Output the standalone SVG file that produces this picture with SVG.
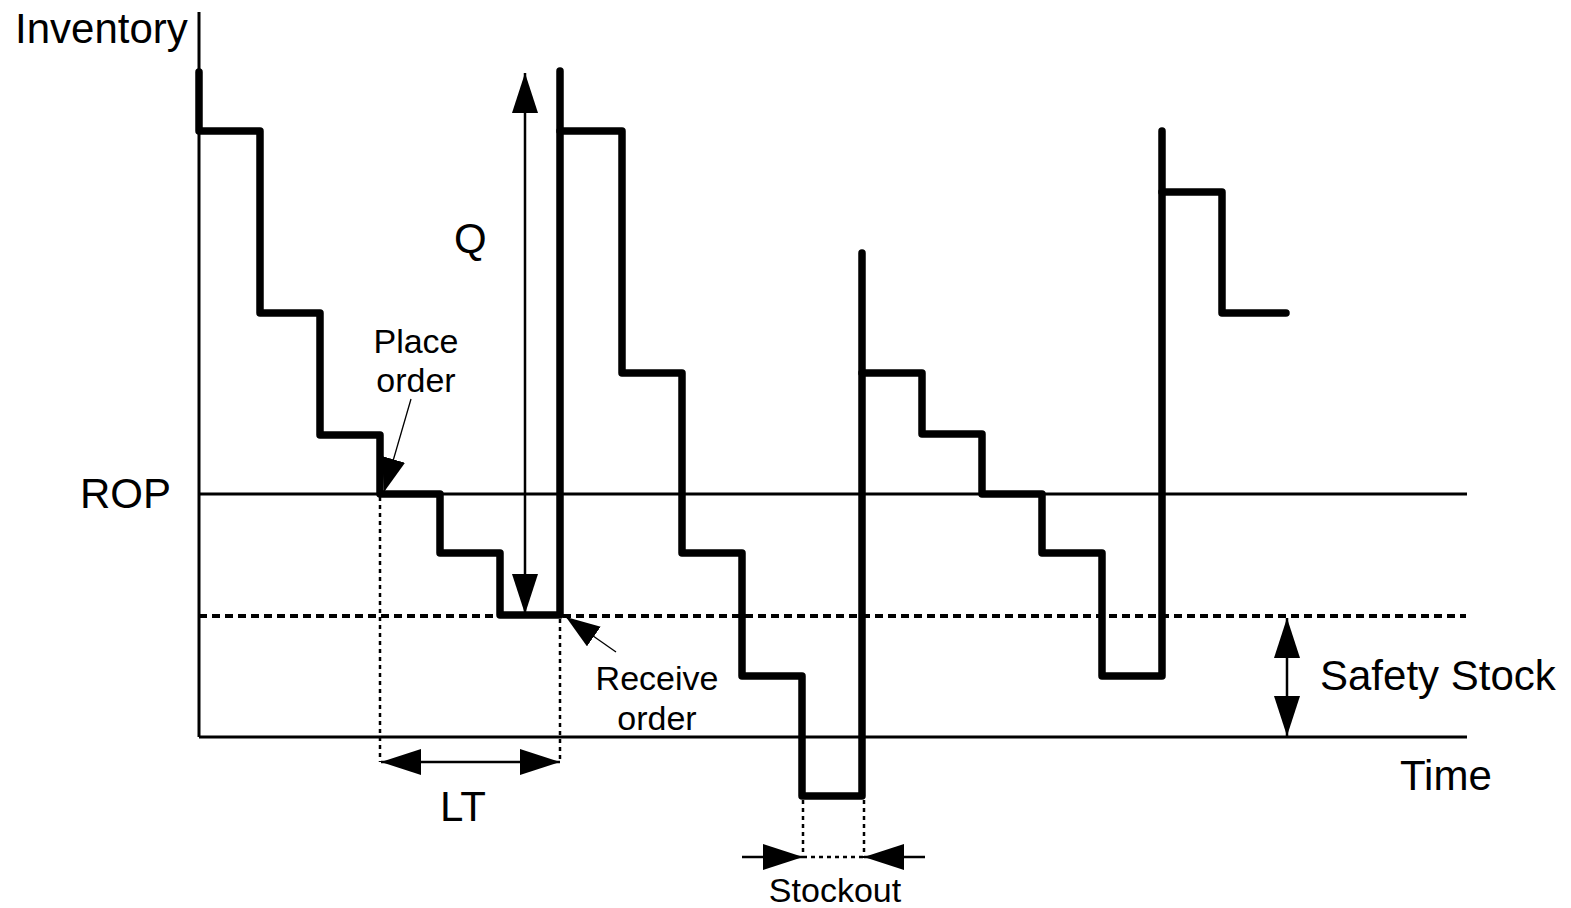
<svg xmlns="http://www.w3.org/2000/svg" width="1571" height="908" viewBox="0 0 1571 908">
<style>
.bg{fill:#ffffff}
.axis{stroke:#000;stroke-width:3;fill:none}
.inv{stroke:#000;stroke-width:7.5;fill:none;stroke-linejoin:round;stroke-linecap:round}
.ss{stroke:#000;stroke-width:4;fill:none;stroke-dasharray:8 5}
.dot{stroke:#000;stroke-width:2.5;fill:none;stroke-dasharray:4 4}
.arr{stroke:#000;stroke-width:2.5;fill:none}
.lead{stroke:#000;stroke-width:1.3;fill:none}
.big{font-family:"Liberation Sans",Arial,sans-serif;font-size:42px;fill:#000}
.sm{font-family:"Liberation Sans",Arial,sans-serif;font-size:34px;fill:#000}
</style>
<defs>
<marker id="ah" markerUnits="userSpaceOnUse" markerWidth="40" markerHeight="26" viewBox="0 0 40 26" refX="40" refY="13" orient="auto-start-reverse">
<path d="M0,0 L40,13 L0,26 Z" fill="#000"/>
</marker>
<marker id="ahs" markerUnits="userSpaceOnUse" markerWidth="34" markerHeight="24" viewBox="0 0 34 24" refX="34" refY="12" orient="auto">
<path d="M0,0 L34,12 L0,24 Z" fill="#000"/>
</marker>
</defs>
<rect class="bg" x="0" y="0" width="1571" height="908"/>
<g id="axes">
<line class="axis" x1="199" y1="12" x2="199" y2="737"/>
<line class="axis" x1="199" y1="737" x2="1467" y2="737"/>
<line class="axis" x1="199" y1="494" x2="1467" y2="494"/>
<line class="ss" x1="199" y1="616" x2="1466" y2="616"/>
</g>
<g id="inventory-curve">
<path class="inv" d="M199,72 L199,131 L260,131 L260,313 L320,313 L320,435 L380,435 L380,494 L440,494 L440,553 L500,553 L500,615 L560,615 L560,71"/>
<path class="inv" d="M560,131 L622,131 L622,373 L682,373 L682,553 L742,553 L742,676 L802,676 L802,796 L862,796 L862,253"/>
<path class="inv" d="M862,373 L922,373 L922,434 L982,434 L982,494 L1042,494 L1042,553 L1102,553 L1102,676 L1162,676 L1162,131"/>
<path class="inv" d="M1162,192 L1222,192 L1222,313 L1286,313"/>
</g>
<g id="connectors">
<line class="arr" x1="525" y1="73" x2="525" y2="614" marker-start="url(#ah)" marker-end="url(#ah)"/>
<line class="arr" x1="1287" y1="618" x2="1287" y2="736" marker-start="url(#ah)" marker-end="url(#ah)"/>
<line class="dot" x1="380" y1="497" x2="380" y2="762"/>
<line class="dot" x1="560" y1="619" x2="560" y2="762"/>
<line class="arr" x1="381" y1="762" x2="560" y2="762" marker-start="url(#ah)" marker-end="url(#ah)"/>
<line class="dot" x1="803" y1="800" x2="803" y2="858"/>
<line class="dot" x1="864" y1="800" x2="864" y2="858"/>
<line class="dot" x1="803" y1="857" x2="864" y2="857"/>
<line class="arr" x1="742" y1="857" x2="803" y2="857" marker-end="url(#ah)"/>
<line class="arr" x1="925" y1="857" x2="864" y2="857" marker-end="url(#ah)"/>
<line class="lead" x1="411" y1="399" x2="384" y2="492" marker-end="url(#ahs)"/>
<line class="lead" x1="616" y1="652" x2="566" y2="617" marker-end="url(#ahs)"/>
</g>
<g id="labels">
<text class="big" x="15" y="43">Inventory</text>
<text class="big" x="80" y="508">ROP</text>
<text class="big" x="454" y="253">Q</text>
<text class="big" x="463" y="821" text-anchor="middle">LT</text>
<text class="big" x="1320" y="690">Safety Stock</text>
<text class="big" x="1400" y="790">Time</text>
<text class="sm" x="416" y="353" text-anchor="middle">Place</text>
<text class="sm" x="416" y="392" text-anchor="middle">order</text>
<text class="sm" x="657" y="690" text-anchor="middle">Receive</text>
<text class="sm" x="657" y="730" text-anchor="middle">order</text>
<text class="sm" x="835" y="902" text-anchor="middle">Stockout</text>
</g>
</svg>
